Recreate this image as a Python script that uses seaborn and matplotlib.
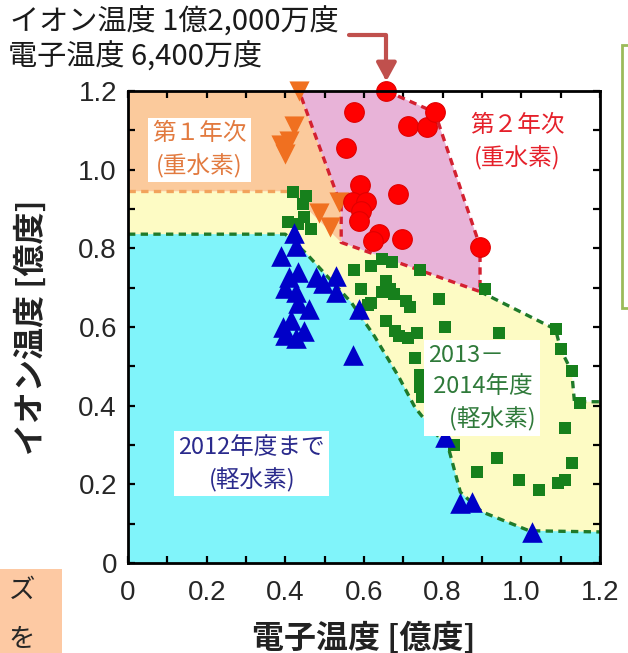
import matplotlib
matplotlib.use("Agg")
import matplotlib.pyplot as plt
from matplotlib.patches import Rectangle
from matplotlib.ticker import MultipleLocator, FuncFormatter
import seaborn as sns

sns.set_theme(style="ticks")
plt.rcParams["font.family"] = ["Noto Sans CJK JP", "DejaVu Sans"]

# ---- measured plasma temperatures [億度] : electron Te, ion Ti ----
red_te = [0.657, 0.575, 0.713, 0.760, 0.780, 0.555, 0.591, 0.686, 0.573, 0.606,
          0.593, 0.588, 0.637, 0.624, 0.696, 0.895]
red_ti = [1.200, 1.146, 1.111, 1.108, 1.146, 1.054, 0.960, 0.937, 0.917, 0.917,
          0.895, 0.869, 0.836, 0.818, 0.823, 0.803]

orange_te = [0.435, 0.422, 0.410, 0.390, 0.400, 0.537, 0.486, 0.514]
orange_ti = [1.200, 1.110, 1.073, 1.062, 1.040, 0.917, 0.890, 0.855]

green_te = [0.419, 0.453, 0.445, 0.407, 0.448, 0.465, 0.432,
            0.575, 0.619, 0.645, 0.670, 0.742, 0.908, 0.790,
            0.593, 0.611, 0.619, 0.657, 0.665, 0.645, 0.675, 0.708, 0.716,
            0.806, 0.657, 0.678, 0.690, 0.713, 0.734, 0.944,
            0.729, 0.742, 0.742, 0.747,
            1.087, 1.100, 1.128, 1.148, 1.110, 1.130, 1.092, 1.110, 1.046,
            0.995, 0.939, 0.887, 0.829]
green_ti = [0.943, 0.932, 0.912, 0.866, 0.879, 0.848, 0.861,
            0.746, 0.754, 0.772, 0.764, 0.746, 0.696, 0.670,
            0.696, 0.657, 0.662, 0.716, 0.696, 0.688, 0.683, 0.665, 0.650,
            0.599, 0.614, 0.589, 0.576, 0.573, 0.586, 0.586,
            0.522, 0.479, 0.448, 0.423,
            0.594, 0.543, 0.487, 0.408, 0.344, 0.255, 0.204, 0.211, 0.186,
            0.211, 0.268, 0.232, 0.300]

blue_te = [0.422, 0.427, 0.389, 0.432, 0.409, 0.400, 0.427, 0.478, 0.496, 0.529,
           0.529, 0.432, 0.460, 0.588, 0.394, 0.414, 0.400, 0.448, 0.427, 0.573,
           0.806, 0.844, 0.875, 1.028]
blue_ti = [0.840, 0.805, 0.780, 0.741, 0.726, 0.700, 0.690, 0.726, 0.713, 0.729,
           0.690, 0.662, 0.645, 0.645, 0.601, 0.619, 0.580, 0.589, 0.573, 0.530,
           0.320, 0.153, 0.155, 0.079]

# ---- operating-region boundaries ----
pink_x = [0.435, 0.657, 0.780, 0.895, 0.895, 0.542, 0.542]
pink_y = [1.200, 1.200, 1.146, 0.805, 0.690, 0.815, 0.907]

orange_x = [0.0, 0.0, 0.435, 0.542, 0.542, 0.410]
orange_y = [0.945, 1.2, 1.200, 0.907, 0.815, 0.945]

yellow_x = [0.0, 0.0, 0.410, 0.542, 0.895, 1.087, 1.100, 1.128, 1.135, 1.2, 1.2]
yellow_y = [0.0, 0.945, 0.945, 0.815, 0.690, 0.594, 0.543, 0.487, 0.410, 0.410, 0.0]

cyan_x = [0.0, 0.400, 0.455, 0.568, 0.627, 0.688, 0.730, 0.816, 0.845, 0.900, 1.020, 1.2]
cyan_y = [0.836, 0.836, 0.785, 0.662, 0.576, 0.474, 0.395, 0.288, 0.180, 0.130, 0.082, 0.079]

fig = plt.figure(figsize=(6.28, 6.53), dpi=100)
ax = fig.add_axes([128 / 628, 1 - 563 / 653, 472 / 628, 472 / 653])
ax.set_xlim(0, 1.2)
ax.set_ylim(0, 1.2)

# shaded regions
ax.fill(yellow_x, yellow_y, color="#fdfbc4", lw=0, zorder=0.2)
ax.fill(cyan_x + [1.2, 0.0], cyan_y + [0.0, 0.0], color="#80f4fa", lw=0, zorder=0.3)
ax.fill(orange_x, orange_y, color="#fbca9c", lw=0, zorder=0.4)
ax.fill(pink_x, pink_y, color="#e8b3d8", lw=0, zorder=0.5)

dash = (0, (2.2, 1.6))
ax.plot(cyan_x, cyan_y, color="#1f7a2a", lw=2.4, ls=dash, zorder=1)
ax.plot(yellow_x[4:10], yellow_y[4:10], color="#1f7a2a", lw=2.4, ls=dash, zorder=1)
ax.plot([0.0, 0.41], [0.945, 0.945], color="#f2a35c", lw=2.4, ls=dash, zorder=1)
ax.plot(pink_x[1:] + [pink_x[0]], pink_y[1:] + [pink_y[0]], color="#d42030",
        lw=2.4, ls=dash, zorder=1.1, clip_on=False)

# data points
sns.scatterplot(x=green_te, y=green_ti, marker="s", s=85, color="#17801c",
                edgecolor="#17801c", linewidth=0, ax=ax, zorder=2)
sns.scatterplot(x=blue_te, y=blue_ti, marker="^", s=220, color="#0000c8",
                edgecolor="#0000c8", linewidth=0, ax=ax, zorder=2.2)
sns.scatterplot(x=orange_te, y=orange_ti, marker="v", s=210, color="#f07020",
                edgecolor="#f07020", linewidth=0, ax=ax, zorder=2.4, clip_on=False)
sns.scatterplot(x=red_te, y=red_ti, marker="o", s=200, color="#ff0000",
                edgecolor="#e00000", linewidth=0.8, ax=ax, zorder=2.6, clip_on=False)

# region labels
box = dict(boxstyle="square,pad=0.18", facecolor="white", edgecolor="none")
ax.text(0.182, 1.05, "第１年次\n(重水素)", color="#e27a3f", fontsize=17,
        ha="center", va="center", linespacing=1.45, bbox=box, zorder=4)
ax.text(0.99, 1.07, "第２年次\n(重水素)", color="#e5202a", fontsize=17,
        ha="center", va="center", linespacing=1.45, zorder=4)
ax.text(0.90, 0.446, "2013－\n 2014年度\n    (軽水素)", color="#2f7a3a", fontsize=17,
        ha="center", va="center", multialignment="left", linespacing=1.45,
        bbox=box, zorder=4)
ax.text(0.315, 0.252, "2012年度まで\n(軽水素)", color="#2a2a8c", fontsize=17,
        ha="center", va="center", linespacing=1.45, bbox=box, zorder=4)

# axes styling
ax.xaxis.set_major_locator(MultipleLocator(0.2))
ax.yaxis.set_major_locator(MultipleLocator(0.2))
ax.xaxis.set_minor_locator(MultipleLocator(0.1))
ax.yaxis.set_minor_locator(MultipleLocator(0.1))
fmt = FuncFormatter(lambda v, p: "0" if abs(v) < 1e-9 else f"{v:.1f}")
ax.xaxis.set_major_formatter(fmt)
ax.yaxis.set_major_formatter(fmt)
ax.tick_params(which="both", direction="in", top=True, right=True,
               length=5, width=1.6, color="black")
ax.tick_params(axis="x", which="major", pad=12, labelsize=20)
ax.tick_params(axis="y", which="major", pad=8, labelsize=20)
for lab in ax.get_xticklabels() + ax.get_yticklabels():
    lab.set_family(["Liberation Sans", "DejaVu Sans"])
for sp in ax.spines.values():
    sp.set_linewidth(2)
    sp.set_color("black")
    sp.set_zorder(5)
ax.grid(False)

ax.set_xlabel("電子温度 [億度]", fontsize=23, fontweight="bold", color="#222222")
ax.set_ylabel("イオン温度 [億度]", fontsize=23, fontweight="bold", color="#222222")
ax.xaxis.set_label_coords(0.5, -0.125)
ax.yaxis.set_label_coords(-0.17, 0.5)

# record-point callout
fig.text(10 / 628, 1 - 22 / 653, "イオン温度 1億2,000万度", fontsize=21,
         ha="left", va="center", color="#1a1a1a")
fig.text(8 / 628, 1 - 57 / 653, "電子温度 6,400万度", fontsize=21,
         ha="left", va="center", color="#1a1a1a")
ax.annotate("", xy=(red_te[0], red_ti[0]), xycoords="data",
            xytext=(-27, 40), textcoords="offset points",
            arrowprops=dict(arrowstyle="-|>,head_length=0.55,head_width=0.3",
                            connectionstyle="angle,angleA=0,angleB=90,rad=0",
                            color="#c0504d", lw=3, shrinkA=0, shrinkB=7,
                            mutation_scale=20),
            annotation_clip=False, zorder=6)

# surrounding page elements
fig.add_artist(Rectangle((622 / 628, 1 - 308 / 653), 30 / 628, 263 / 653,
                         transform=fig.transFigure, facecolor="white",
                         edgecolor="#9bbb59", lw=2))
fig.add_artist(Rectangle((0, 0), 62 / 628, 84 / 653, transform=fig.transFigure,
                         facecolor="#fdc9a3", edgecolor="none"))
fig.text(22 / 628, 1 - 590 / 653, "ズ", fontsize=19, ha="center", va="center")
fig.text(22 / 628, 1 - 640 / 653, "を", fontsize=19, ha="center", va="center")

fig.savefig("out.png", dpi=100)
